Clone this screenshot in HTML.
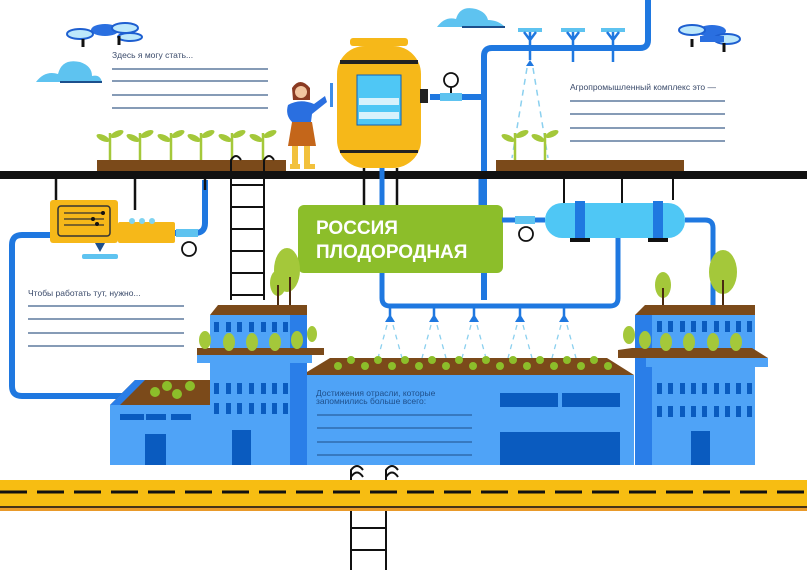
<!DOCTYPE html>
<html><head><meta charset="utf-8"><style>
body{margin:0;background:#fff}
svg{display:block}
text{font-family:"Liberation Sans",sans-serif}
</style></head><body>
<svg width="807" height="570" viewBox="0 0 807 570" xmlns="http://www.w3.org/2000/svg">
<rect width="807" height="570" fill="#fff"/>
<!-- clouds -->
<path d="M36 82 Q45 70 58 74 Q62 58 80 62 Q92 66 92 76 Q100 74 102 82 Z" fill="#5ec3f0"/>
<path d="M60 82 L102 82" stroke="#1c4f8c" stroke-width="2"/>
<path d="M437 27 Q445 16 456 19 Q460 5 476 9 Q486 12 488 20 Q498 20 505 27 Z" fill="#5ec3f0"/>
<path d="M462 27 L505 27" stroke="#1c4f8c" stroke-width="2"/>
<!-- drones -->
<g transform="translate(105,30)">
<ellipse cx="0" cy="0" rx="14" ry="6" fill="#2a6fe0"/>
<ellipse cx="-25" cy="4" rx="13" ry="5" fill="#bde8fb" stroke="#1e5fd0" stroke-width="2"/>
<ellipse cx="20" cy="-2" rx="13" ry="5" fill="#bde8fb" stroke="#1e5fd0" stroke-width="2"/>
<ellipse cx="25" cy="7" rx="12" ry="4" fill="#bde8fb" stroke="#1e5fd0" stroke-width="2"/>
<path d="M-22 9 L-22 17 M14 6 L14 15" stroke="#111" stroke-width="3"/>
</g>
<g transform="translate(712,35)">
<ellipse cx="0" cy="-4" rx="14" ry="6" fill="#2a6fe0"/>
<ellipse cx="-20" cy="-5" rx="13" ry="5" fill="#bde8fb" stroke="#1e5fd0" stroke-width="2"/>
<ellipse cx="15" cy="4" rx="13" ry="5" fill="#bde8fb" stroke="#1e5fd0" stroke-width="2"/>
<rect x="-12" y="1" width="24" height="6" fill="#2a6fe0"/>
<path d="M-20 4 L-20 12 M12 8 L12 17" stroke="#111" stroke-width="3"/>
</g>
<!-- top right pipe -->
<path d="M648 0 L648 40 Q648 48 640 48 L492 48 Q484 48 484 56 L484 300" fill="none" stroke="#1f78e0" stroke-width="6"/>
<path d="M430 97 L484 97" stroke="#1f78e0" stroke-width="6"/>
<rect x="440" y="93" width="22" height="8" fill="#5ec3f0"/>
<circle cx="451" cy="80" r="7" fill="#fff" stroke="#111" stroke-width="1.8"/><path d="M451 87 L451 93" stroke="#111" stroke-width="2"/>
<g fill="#5ec3f0" stroke="#1f78e0" stroke-width="2">
<rect x="518" y="28" width="24" height="4" stroke="none"/><rect x="561" y="28" width="24" height="4" stroke="none"/><rect x="601" y="28" width="24" height="4" stroke="none"/>
</g>
<path d="M530 32 L530 60 M524 32 L530 40 L536 32 M573 32 L573 62 M567 32 L573 40 L579 32 M613 32 L613 62 M607 32 L613 40 L619 32" stroke="#1f78e0" stroke-width="2.5" fill="none"/>
<path d="M526 66 L530 60 L534 66Z" fill="#1f78e0"/>
<path d="M527 68 L512 158 M533 68 L548 158" stroke="#8bd0ef" stroke-width="1.5" stroke-dasharray="6 5"/>
<!-- tank -->
<rect x="350" y="38" width="58" height="8" rx="3" fill="#f6b819"/>
<rect x="337" y="46" width="84" height="122" rx="28" fill="#f6b819"/>
<rect x="340" y="60" width="78" height="4" fill="#222"/>
<rect x="340" y="150" width="78" height="3" fill="#222"/>
<rect x="357" y="75" width="44" height="50" fill="#4fc7f5" stroke="#0f5fb8" stroke-width="1"/>
<rect x="359" y="98" width="40" height="7" fill="#d8f2fc"/><rect x="359" y="112" width="40" height="7" fill="#d8f2fc"/>
<rect x="420" y="89" width="8" height="14" fill="#222"/>
<rect x="330" y="83" width="3" height="24" fill="#3f8de8"/>
<!-- woman -->
<circle cx="301" cy="91" r="8" fill="#f2c5a0"/>
<path d="M292 88 Q300 76 310 88 L310 100 L293 100Z" fill="#8a3a22"/>
<circle cx="301" cy="92" r="6" fill="#f2c5a0"/>
<path d="M288 105 Q300 98 314 104 L325 96 L327 102 L312 114 L311 122 L292 122 Q285 115 288 105Z" fill="#2a6fe0"/>
<path d="M292 122 L312 122 L316 146 L288 146Z" fill="#c4661a"/>
<rect x="292" y="146" width="6" height="20" fill="#f2c13c"/><rect x="304" y="146" width="6" height="20" fill="#f2c13c"/>
<rect x="290" y="164" width="10" height="5" fill="#f2c13c"/><rect x="304" y="164" width="11" height="5" fill="#f2c13c"/>
<!-- plants & soil -->
<rect x="97" y="160" width="189" height="11" fill="#7b4a1a"/>
<rect x="496" y="160" width="188" height="11" fill="#7b4a1a"/>
<g stroke="#a4c83a" stroke-width="2.5" fill="#a4c83a">
<path d="M110 160 V133 M140 160 V133 M171 160 V133 M201 160 V133 M232 160 V133 M263 160 V133 M515 160 V133 M545 160 V133"/>
</g>
<g fill="#a4c83a">
<ellipse cx="103" cy="138" rx="7" ry="3" transform="rotate(25 103 138)"/><ellipse cx="117" cy="134" rx="7" ry="3" transform="rotate(-25 117 134)"/>
<ellipse cx="133" cy="138" rx="7" ry="3" transform="rotate(25 133 138)"/><ellipse cx="147" cy="134" rx="7" ry="3" transform="rotate(-25 147 134)"/>
<ellipse cx="164" cy="138" rx="7" ry="3" transform="rotate(25 164 138)"/><ellipse cx="178" cy="134" rx="7" ry="3" transform="rotate(-25 178 134)"/>
<ellipse cx="194" cy="138" rx="7" ry="3" transform="rotate(25 194 138)"/><ellipse cx="208" cy="134" rx="7" ry="3" transform="rotate(-25 208 134)"/>
<ellipse cx="225" cy="138" rx="7" ry="3" transform="rotate(25 225 138)"/><ellipse cx="239" cy="134" rx="7" ry="3" transform="rotate(-25 239 134)"/>
<ellipse cx="256" cy="138" rx="7" ry="3" transform="rotate(25 256 138)"/><ellipse cx="270" cy="134" rx="7" ry="3" transform="rotate(-25 270 134)"/>
<ellipse cx="508" cy="138" rx="7" ry="3" transform="rotate(25 508 138)"/><ellipse cx="522" cy="134" rx="7" ry="3" transform="rotate(-25 522 134)"/>
<ellipse cx="538" cy="138" rx="7" ry="3" transform="rotate(25 538 138)"/><ellipse cx="552" cy="134" rx="7" ry="3" transform="rotate(-25 552 134)"/>
</g>
<!-- notes top -->
<text x="112" y="58" font-size="8.5" fill="#3a4a6a">Здесь я могу стать...</text>
<g stroke="#3f5f8a" stroke-width="1.3"><path d="M112 69 H268 M112 81 H268 M112 95 H268 M112 108 H268"/>
<path d="M570 101 H725 M570 114 H725 M570 128 H725 M570 141 H725"/>
<path d="M28 306 H184 M28 319 H184 M28 333 H184 M28 346 H184"/></g>
<text x="570" y="90" font-size="8.5" fill="#3a4a6a">Агропромышленный комплекс это —</text>
<text x="28" y="296" font-size="8.5" fill="#3a4a6a">Чтобы работать тут, нужно...</text>
<!-- left pipes -->
<path d="M52 235 L22 235 Q12 235 12 245 L12 386 Q12 396 22 396 L130 396" fill="none" stroke="#1f78e0" stroke-width="6"/>
<path d="M175 233 L195 233 Q205 233 205 223 L205 180" fill="none" stroke="#1f78e0" stroke-width="6"/>
<rect x="176" y="229" width="22" height="8" fill="#5ec3f0"/>
<circle cx="189" cy="249" r="7" fill="#fff" stroke="#111" stroke-width="1.8"/>
<path d="M56 179 V200 M135 179 V210" stroke="#111" stroke-width="2.5"/>
<path d="M205 179 V190 M364 168 V205 M383 168 V205 M397 168 V205" stroke="#111" stroke-width="2.5"/>
<path d="M380 168 V205 M541 179 V200 M591 179 V200" stroke="#1f78e0" stroke-width="0"/>
<!-- yellow device -->
<rect x="50" y="200" width="68" height="43" rx="3" fill="#f6b819"/>
<rect x="118" y="222" width="57" height="21" rx="2" fill="#f6b819"/>
<rect x="58" y="206" width="52" height="30" rx="3" fill="none" stroke="#333" stroke-width="1.5"/>
<path d="M64 213 H104 M64 219 H104 M64 225 H104" stroke="#333" stroke-width="1.2"/>
<circle cx="103" cy="213" r="2" fill="#111"/><circle cx="93" cy="219" r="2" fill="#111"/><circle cx="97" cy="224" r="2" fill="#111"/>
<circle cx="132" cy="221" r="3" fill="#7fd3f0"/><circle cx="142" cy="221" r="3" fill="#7fd3f0"/><circle cx="152" cy="221" r="3" fill="#7fd3f0"/>
<path d="M95 243 L100 252 L105 243Z" fill="#1f4f8a"/>
<rect x="82" y="254" width="36" height="5" rx="2" fill="#5ec3f0"/>
<!-- black beam -->
<rect x="0" y="171" width="807" height="8" fill="#111"/>
<path d="M564 179 V205 M622 179 V205 M673 179 V200" stroke="#111" stroke-width="2"/>
<path d="M382 168 V298 Q382 306 390 306 L610 306 Q618 306 618 298 L618 238" fill="none" stroke="#1f78e0" stroke-width="5"/>
<path d="M481 179 V205" stroke="#1f78e0" stroke-width="5"/>
<!-- ladder -->
<g stroke="#111" stroke-width="2" fill="none">
<path d="M231 300 V160 Q236 152 241 160 M264 300 V160 Q269 152 274 160"/>
<path d="M231 185 H264 M231 207 H264 M231 229 H264 M231 251 H264 M231 273 H264 M231 295 H264"/>
<path d="M351 570 V477 Q357 468 363 477 M386 570 V477 Q392 468 398 477"/>
<path d="M351 528 H386 M351 550 H386"/>
</g>
<!-- green box -->
<rect x="298" y="205" width="205" height="68" rx="6" fill="#8cbe2a"/>
<text x="316" y="234" font-size="19" font-weight="bold" fill="#fff">РОССИЯ</text>
<text x="316" y="258" font-size="19" font-weight="bold" fill="#fff">ПЛОДОРОДНАЯ</text>
<!-- blue tank -->
<path d="M502 220 H545" stroke="#1f78e0" stroke-width="5"/>
<rect x="515" y="216" width="20" height="8" fill="#5ec3f0"/>
<circle cx="526" cy="234" r="7" fill="#fff" stroke="#111" stroke-width="1.8"/>
<rect x="545" y="203" width="140" height="35" rx="17" fill="#4fc7f5"/>
<rect x="575" y="201" width="10" height="39" fill="#1f78e0"/><rect x="653" y="201" width="10" height="39" fill="#1f78e0"/>
<rect x="570" y="238" width="20" height="4" fill="#111"/><rect x="648" y="238" width="20" height="4" fill="#111"/>
<path d="M685 220 L705 220 Q713 220 713 228 L713 310" fill="none" stroke="#1f78e0" stroke-width="5"/>
<!-- sprinklers middle -->
<g fill="#1f78e0">
<path d="M385 322 L390 314 L395 322Z"/><path d="M429 322 L434 314 L439 322Z"/><path d="M469 322 L474 314 L479 322Z"/><path d="M515 322 L520 314 L525 322Z"/><path d="M559 322 L564 314 L569 322Z"/>
</g>
<path d="M390 306 V316 M434 306 V316 M474 306 V316 M520 306 V316 M564 306 V316" stroke="#1f78e0" stroke-width="2.5"/>
<g stroke="#8bd0ef" stroke-width="1.3" stroke-dasharray="5 5">
<path d="M387 325 L378 358 M393 325 L402 358 M431 325 L422 358 M437 325 L446 358 M471 325 L462 358 M477 325 L486 358 M517 325 L508 358 M523 325 L532 358 M561 325 L552 358 M567 325 L576 358"/>
</g>
<!-- central building -->
<path d="M302 375 L330 358 L607 358 L634 375Z" fill="#7b4a1a"/>
<rect x="302" y="375" width="332" height="90" fill="#4fa3f7"/>
<g fill="#8cbe2a">
<circle cx="338" cy="366" r="4"/><circle cx="365" cy="366" r="4"/><circle cx="392" cy="366" r="4"/><circle cx="419" cy="366" r="4"/><circle cx="446" cy="366" r="4"/><circle cx="473" cy="366" r="4"/><circle cx="500" cy="366" r="4"/><circle cx="527" cy="366" r="4"/><circle cx="554" cy="366" r="4"/><circle cx="581" cy="366" r="4"/><circle cx="608" cy="366" r="4"/>
<circle cx="351" cy="360" r="4"/><circle cx="378" cy="360" r="4"/><circle cx="405" cy="360" r="4"/><circle cx="432" cy="360" r="4"/><circle cx="459" cy="360" r="4"/><circle cx="486" cy="360" r="4"/><circle cx="513" cy="360" r="4"/><circle cx="540" cy="360" r="4"/><circle cx="567" cy="360" r="4"/><circle cx="594" cy="360" r="4"/>
</g>
<text x="316" y="396" font-size="8.5" fill="#1f4f8a">Достижения отрасли, которые</text>
<text x="316" y="404" font-size="8.5" fill="#1f4f8a">запомнились больше всего:</text>
<path d="M317 415 H472 M317 428 H472 M317 442 H472 M317 455 H472" stroke="#1f4f8a" stroke-width="1"/>
<rect x="500" y="393" width="58" height="14" fill="#0a5bbf"/><rect x="562" y="393" width="58" height="14" fill="#0a5bbf"/>
<rect x="500" y="432" width="120" height="33" fill="#0a5bbf"/>
<!-- small left building -->
<path d="M110 405 L135 380 L210 380 L210 405Z" fill="#7b4a1a"/>
<path d="M110 405 L135 380 L145 380 L120 405Z" fill="#2a7ee8"/>
<rect x="110" y="405" width="100" height="60" fill="#4fa3f7"/>
<rect x="120" y="414" width="24" height="6" fill="#0a5bbf"/><rect x="146" y="414" width="20" height="6" fill="#0a5bbf"/><rect x="171" y="414" width="20" height="6" fill="#0a5bbf"/>
<rect x="145" y="434" width="21" height="31" fill="#0a5bbf"/>
<g fill="#8cbe2a"><circle cx="155" cy="392" r="5"/><circle cx="167" cy="386" r="5"/><circle cx="177" cy="394" r="5"/><circle cx="190" cy="386" r="5"/></g>
<!-- left tower -->
<path d="M210 315 L218 305 L307 305 L307 315Z" fill="#7b4a1a"/>
<rect x="210" y="315" width="97" height="45" fill="#4fa3f7"/>
<rect x="290" y="315" width="17" height="45" fill="#2a7ee8"/>
<g fill="#0a5bbf"><rect x="214" y="322" width="5" height="10"/><rect x="226" y="322" width="5" height="10"/><rect x="237" y="322" width="5" height="10"/><rect x="249" y="322" width="5" height="10"/><rect x="261" y="322" width="5" height="10"/><rect x="272" y="322" width="5" height="10"/><rect x="283" y="322" width="5" height="10"/></g>
<rect x="197" y="348" width="127" height="7" fill="#7b4a1a"/>
<rect x="197" y="355" width="115" height="8" fill="#4fa3f7"/>
<rect x="210" y="363" width="90" height="102" fill="#4fa3f7"/>
<rect x="290" y="363" width="17" height="102" fill="#2a7ee8"/>
<g fill="#0a5bbf"><rect x="214" y="383" width="5" height="11"/><rect x="226" y="383" width="5" height="11"/><rect x="237" y="383" width="5" height="11"/><rect x="249" y="383" width="5" height="11"/><rect x="261" y="383" width="5" height="11"/><rect x="272" y="383" width="5" height="11"/><rect x="283" y="383" width="5" height="11"/>
<rect x="214" y="403" width="5" height="11"/><rect x="226" y="403" width="5" height="11"/><rect x="237" y="403" width="5" height="11"/><rect x="249" y="403" width="5" height="11"/><rect x="261" y="403" width="5" height="11"/><rect x="272" y="403" width="5" height="11"/><rect x="283" y="403" width="5" height="11"/>
<rect x="232" y="430" width="19" height="35"/></g>
<g fill="#a4c83a"><ellipse cx="205" cy="340" rx="6" ry="9"/><ellipse cx="229" cy="342" rx="6" ry="9"/><ellipse cx="252" cy="342" rx="6" ry="9"/><ellipse cx="275" cy="342" rx="6" ry="9"/><ellipse cx="297" cy="340" rx="6" ry="9"/><ellipse cx="312" cy="334" rx="5" ry="8"/>
<ellipse cx="287" cy="270" rx="13" ry="22"/><ellipse cx="278" cy="283" rx="8" ry="13"/></g>
<path d="M278 285 V305 M290 277 V305" stroke="#4a2a10" stroke-width="2"/>
<!-- right tower -->
<path d="M635 315 L645 305 L755 305 L755 315Z" fill="#7b4a1a"/>
<rect x="635" y="315" width="20" height="150" fill="#2a7ee8"/>
<rect x="652" y="315" width="103" height="40" fill="#4fa3f7"/>
<g fill="#0a5bbf"><rect x="657" y="321" width="5" height="11"/><rect x="668" y="321" width="5" height="11"/><rect x="680" y="321" width="5" height="11"/><rect x="691" y="321" width="5" height="11"/><rect x="702" y="321" width="5" height="11"/><rect x="714" y="321" width="5" height="11"/><rect x="725" y="321" width="5" height="11"/><rect x="736" y="321" width="5" height="11"/><rect x="747" y="321" width="5" height="11"/></g>
<path d="M618 350 L632 348 L752 348 L768 358 L618 358Z" fill="#7b4a1a"/>
<rect x="646" y="358" width="122" height="9" fill="#4fa3f7"/>
<rect x="652" y="367" width="103" height="98" fill="#4fa3f7"/>
<g fill="#0a5bbf"><rect x="657" y="383" width="5" height="11"/><rect x="668" y="383" width="5" height="11"/><rect x="680" y="383" width="5" height="11"/><rect x="691" y="383" width="5" height="11"/><rect x="702" y="383" width="5" height="11"/><rect x="714" y="383" width="5" height="11"/><rect x="725" y="383" width="5" height="11"/><rect x="736" y="383" width="5" height="11"/><rect x="747" y="383" width="5" height="11"/>
<rect x="657" y="406" width="5" height="11"/><rect x="668" y="406" width="5" height="11"/><rect x="680" y="406" width="5" height="11"/><rect x="691" y="406" width="5" height="11"/><rect x="702" y="406" width="5" height="11"/><rect x="714" y="406" width="5" height="11"/><rect x="725" y="406" width="5" height="11"/><rect x="736" y="406" width="5" height="11"/><rect x="747" y="406" width="5" height="11"/>
<rect x="691" y="431" width="19" height="34"/></g>
<g fill="#a4c83a"><ellipse cx="629" cy="335" rx="6" ry="9"/><ellipse cx="645" cy="340" rx="6" ry="9"/><ellipse cx="666" cy="342" rx="6" ry="9"/><ellipse cx="689" cy="342" rx="6" ry="9"/><ellipse cx="713" cy="342" rx="6" ry="9"/><ellipse cx="736" cy="342" rx="6" ry="9"/>
<ellipse cx="723" cy="272" rx="14" ry="22"/><ellipse cx="663" cy="285" rx="8" ry="13"/></g>
<path d="M723 280 V305 M663 288 V305" stroke="#4a2a10" stroke-width="2"/>
<!-- road -->
<rect x="0" y="480" width="807" height="30" fill="#f7bd12"/>
<rect x="0" y="506" width="807" height="5" fill="#e99a2a"/>
<path d="M0 507 H807" stroke="#111" stroke-width="1.5"/>
<path d="M0 492 H807" stroke="#111" stroke-width="3" stroke-dasharray="27 10"/>
<g stroke="#111" stroke-width="2" fill="none">
<path d="M351 480 V470 Q357 462 363 470 M386 480 V470 Q392 462 398 470"/>
</g>
</svg>
</body></html>
